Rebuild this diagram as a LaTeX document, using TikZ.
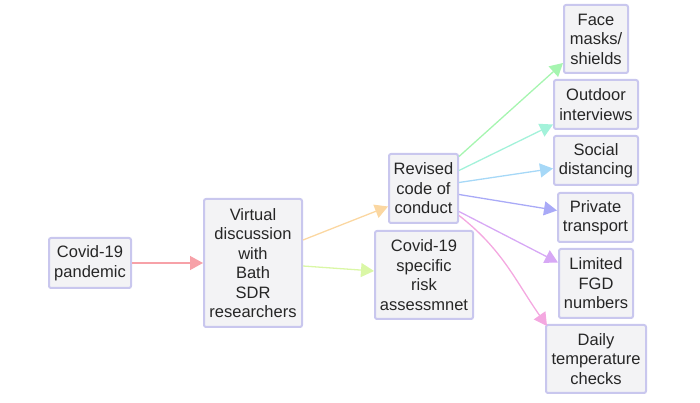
\documentclass[tikz,border=0pt]{standalone}
\usepackage{fontspec}
\setmainfont{Liberation Sans}
\usepackage{xcolor}
\usetikzlibrary{arrows.meta, positioning}
\definecolor{boxline}{HTML}{C9C7EE}
\definecolor{boxfill}{HTML}{F3F3F5}
\definecolor{eRed}{HTML}{F7A1A8}
\definecolor{eOrange}{HTML}{FBD7A1}
\definecolor{eLime}{HTML}{DAF7A6}
\definecolor{eGreen}{HTML}{A6F5B0}
\definecolor{eAqua}{HTML}{A3F2DA}
\definecolor{eSky}{HTML}{A6D8F7}
\definecolor{ePeri}{HTML}{A9AAF7}
\definecolor{eViolet}{HTML}{D7A8F5}
\definecolor{ePink}{HTML}{F4A8E0}
\tikzset{
    box/.style={draw=boxline, fill=boxfill, line width=2pt, rounded corners=2pt,
        align=center, inner sep=0pt, text=black!85,
        font=\fontsize{16.5}{19.5}\selectfont}, % every step of the plan
    boxsize/.style 2 args={minimum width=#1pt, minimum height=#2pt},
    link/.style={line width=1.3pt, draw=#1, -{Triangle[length=13pt,width=14pt,fill=#1]}},
}

\begin{document}
\begin{tikzpicture}[x=1pt, y=1pt]
    \useasboundingbox (0,0) rectangle (700,403);

    % Boxes
    \node[box, boxsize={82}{50}] (pandemic) at (90,140) {Covid-19\\pandemic};
    \node[box, boxsize={98}{128}] (virtual) at (253,140) {Virtual\\discussion\\with\\Bath\\SDR\\researchers};
    \node[box, boxsize={69}{69}] (revised) at (423.5,214.5) {Revised\\code of\\conduct};
    \node[box, boxsize={98}{88}] (risk) at (424,128) {Covid-19\\specific\\risk\\assessmnet};
    \node[box, boxsize={64}{68}] (face) at (596,364) {Face\\masks/\\shields};
    \node[box, boxsize={84}{49}] (outdoor) at (596,298.5) {Outdoor\\interviews};
    \node[box, boxsize={84}{49}] (social) at (596,242.5) {Social\\distancing};
    \node[box, boxsize={75}{49}] (private) at (595.5,185.5) {Private\\transport};
    \node[box, boxsize={74}{69}] (limited) at (596,119.5) {Limited\\FGD\\numbers};
    \node[box, boxsize={100}{68}] (daily) at (596,44) {Daily\\temperature\\checks};

    % Links
    \path
        (pandemic) edge[link=eRed] (virtual)
        ([yshift=23pt]virtual.east) edge[link=eOrange] ([yshift=-18pt]revised.west)
        ([yshift=-3pt]virtual.east) edge[link=eLime] ([yshift=4pt]risk.west)
        ([yshift=32pt]revised.east) edge[link=eGreen] ([yshift=-24pt]face.west)
        ([yshift=18pt]revised.east) edge[link=eAqua] ([yshift=-20pt]outdoor.west)
        ([yshift=6pt]revised.east) edge[link=eSky] ([yshift=-8pt]social.west)
        ([yshift=-6pt]revised.east) edge[link=ePeri] ([yshift=7pt]private.west)
        ([yshift=-23pt]revised.east) edge[link=eViolet] ([yshift=21pt]limited.west)
        ([yshift=-27pt]revised.east) edge[link=ePink, out=-38, in=125] ([xshift=2pt,yshift=-2pt]daily.north west);
\end{tikzpicture}
\end{document}
